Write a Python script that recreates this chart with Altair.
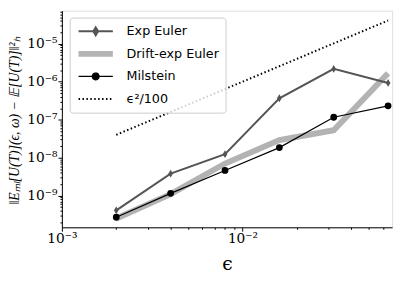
import altair as alt
import pandas as pd

# ---- data ----
eps = [0.002, 0.004, 0.008, 0.016, 0.032, 0.064]
exp_euler = [4.1e-10, 3.8e-9, 1.24e-8, 3.67e-7, 2.18e-6, 9.3e-7]
drift_exp_euler = [2.5e-10, 1.1e-9, 7.0e-9, 2.9e-8, 5.3e-8, 1.68e-6]
milstein = [2.7e-10, 1.15e-9, 4.6e-9, 1.84e-8, 1.16e-7, 2.32e-7]
eps2_over_100 = [4.0e-8, 1.6e-7, 6.4e-7, 2.56e-6, 1.024e-5, 4.096e-5]

series_names = ["Exp Euler", "Drift-exp Euler", "Milstein", "ϵ²/100"]

x_major = [1e-3, 1e-2]
x_major_labels = ["10⁻³", "10⁻²"]
y_major = [1e-9, 1e-8, 1e-7, 1e-6, 1e-5]
y_major_labels = ["10⁻⁹", "10⁻⁸", "10⁻⁷", "10⁻⁶", "10⁻⁵"]

x_title = "ϵ"
y_title = "‖Eₘₗ[U(T)](ϵ, ω) − 𝔼[U(T)]‖²ₕ"

# ---- styles ----
colors = ["#555555", "#b3b3b3", "#000000", "#000000"]
widths = [2, 6, 1.2, 2]
dashes = [[1, 0], [1, 0], [1, 0], [1.5, 2.5]]
legend_paths = [
    "M-1,0L1,0M0,-0.23L0.14,0L0,0.23L-0.14,0Z",
    "M-1,0L1,0",
    "M-1,0L1,0M-0.2,0A0.2,0.2,0,1,0,0.2,0A0.2,0.2,0,1,0,-0.2,0Z",
    "M-1,0L1,0",
]

X_DOMAIN = [0.001, 0.0674]
Y_DOMAIN = [1.466e-10, 7.41e-5]
W, H = 337, 221

x_vals = [k * 10.0 ** n for n in (-3, -2) for k in range(1, 10) if k * 10.0 ** n <= X_DOMAIN[1]]
y_vals = [k * 10.0 ** n for n in range(-10, -4) for k in range(1, 10)
          if Y_DOMAIN[0] <= k * 10.0 ** n <= Y_DOMAIN[1]]


def label_expr(vals, labels):
    s = "''"
    for v, l in zip(reversed(vals), reversed(labels)):
        s = f"datum.value == {v!r} ? '{l}' : ({s})"
    return s


def major_test(vals):
    return " || ".join(f"datum.value == {v!r}" for v in vals)


x_enc = alt.X(
    "eps:Q",
    scale=alt.Scale(type="log", domain=X_DOMAIN, nice=False, zero=False),
    axis=alt.Axis(
        values=x_vals,
        labelExpr=label_expr(x_major, x_major_labels),
        tickSize={"expr": f"({major_test(x_major)}) ? 4 : 2"},
        labelOverlap=False,
        labelFlush=False,
        grid=False,
        labelFont="DejaVu Serif",
        labelFontSize=14,
        labelPadding=1,
        labelColor="black",
        tickColor="black",
        domainColor="black",
        title=x_title,
        titleFont="DejaVu Serif",
        titleFontSize=19,
        titleFontWeight="normal",
        titleColor="black",
        titleX=W / 2,
        titleY=37,
        titleBaseline="middle",
        titleAlign="center",
    ),
)

y_enc = alt.Y(
    "err:Q",
    scale=alt.Scale(type="log", domain=Y_DOMAIN, nice=False, zero=False),
    axis=alt.Axis(
        values=y_vals,
        labelExpr=label_expr(y_major, y_major_labels),
        tickSize={"expr": f"({major_test(y_major)}) ? 4 : 2"},
        labelOverlap=False,
        labelFlush=False,
        grid=False,
        labelFont="DejaVu Serif",
        labelFontSize=14,
        labelPadding=1,
        labelColor="black",
        tickColor="black",
        domainColor="black",
        title=y_title,
        titleFont="Liberation Serif",
        titleFontSize=14,
        titleFontStyle="italic",
        titleFontWeight="normal",
        titleColor="black",
        titleAngle=270,
        titleX=-48,
        titleY=H / 2 + 1,
        titleBaseline="middle",
        titleAlign="center",
    ),
)

df_exp = pd.DataFrame({"eps": eps, "err": exp_euler})
df_drift = pd.DataFrame({"eps": eps, "err": drift_exp_euler})
df_mil = pd.DataFrame({"eps": eps, "err": milstein})
df_ref = pd.DataFrame({"eps": eps, "err": eps2_over_100})

drift_layer = alt.Chart(df_drift).mark_line(color=colors[1], strokeWidth=widths[1]).encode(x=x_enc, y=y_enc)

exp_layer = alt.Chart(df_exp).mark_line(
    color=colors[0], strokeWidth=widths[0],
    point=alt.OverlayMarkDef(shape="M0,-1L0.6,0L0,1L-0.6,0Z", size=64, filled=True,
                             color=colors[0], opacity=1),
).encode(x=x_enc, y=y_enc)

mil_layer = alt.Chart(df_mil).mark_line(
    color=colors[2], strokeWidth=widths[2],
    point=alt.OverlayMarkDef(shape="circle", size=48, filled=True, color=colors[2], opacity=1),
).encode(x=x_enc, y=y_enc)

ref_layer = alt.Chart(df_ref).mark_line(
    color=colors[3], strokeWidth=widths[3], strokeDash=dashes[3]
).encode(x=x_enc, y=y_enc)

legend_def = alt.Legend(
    title=None,
    orient="none",
    legendX=8,
    legendY=7,
    padding=6,
    rowPadding=7,
    clipHeight=16,
    symbolSize=1225,
    symbolOffset=0,
    labelOffset=11,
    labelFont="DejaVu Sans",
    labelFontSize=13,
    labelColor="black",
    strokeColor="#cccccc",
    cornerRadius=3,
    fillColor="rgba(255,255,255,0.8)",
)

leg_df = pd.DataFrame({"series": series_names, "eps": [0.01] * 4, "err": [1e-7] * 4})
sd = series_names
legend_layer = alt.Chart(leg_df).mark_point(filled=True, opacity=1).encode(
    x=x_enc,
    y=y_enc,
    shape=alt.Shape("series:N", scale=alt.Scale(domain=sd, range=legend_paths), legend=legend_def),
    stroke=alt.Stroke("series:N", scale=alt.Scale(domain=sd, range=colors), legend=legend_def),
    fill=alt.Fill("series:N", scale=alt.Scale(domain=sd, range=colors), legend=legend_def),
    strokeWidth=alt.StrokeWidth("series:N", scale=alt.Scale(type="ordinal", domain=sd, range=widths), legend=legend_def),
    strokeDash=alt.StrokeDash("series:N", scale=alt.Scale(domain=sd, range=dashes), legend=legend_def),
).transform_filter("false")

chart = alt.layer(drift_layer, exp_layer, mil_layer, ref_layer, legend_layer).properties(
    width=W,
    height=H,
    autosize=alt.AutoSizeParams(type="none"),
    padding={"left": 55, "top": 0, "right": 7, "bottom": 52},
).configure_view(stroke="black", strokeWidth=1).configure(background="white")

chart.save("out.html", embed_options={"renderer": "svg", "actions": False})
